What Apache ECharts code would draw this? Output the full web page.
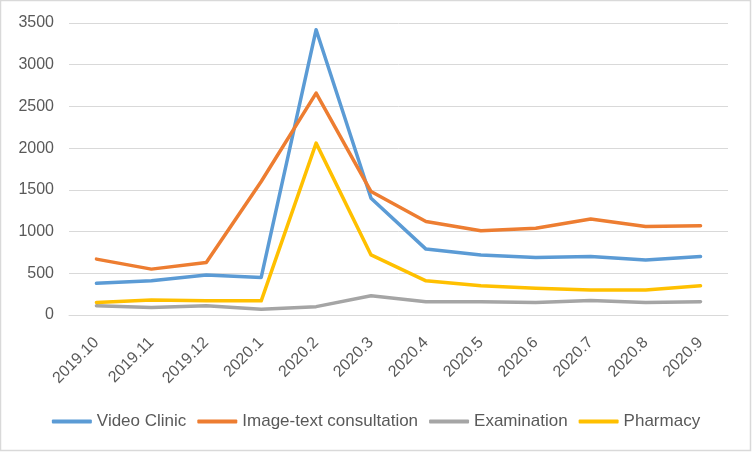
<!DOCTYPE html>
<html><head><meta charset="utf-8">
<script src="https://cdn.jsdelivr.net/npm/echarts@6/dist/echarts.min.js"></script>
<style>html,body{margin:0;padding:0;background:#fff}#c{width:752px;height:452px}</style>
</head><body><div id="c"></div>
<script>
var categories = ['2019.10','2019.11','2019.12','2020.1','2020.2','2020.3','2020.4','2020.5','2020.6','2020.7','2020.8','2020.9'];
var videoClinic = [380, 410, 480, 450, 3420, 1400, 790, 720, 690, 700, 660, 700];
var imageText = [670, 550, 630, 1600, 2660, 1480, 1120, 1010, 1040, 1150, 1060, 1070];
var examination = [110, 90, 110, 70, 100, 230, 160, 160, 150, 175, 150, 160];
var pharmacy = [150, 180, 170, 170, 2060, 720, 410, 350, 320, 300, 300, 350];
var seriesNames = ['Video Clinic', 'Image-text consultation', 'Examination', 'Pharmacy'];
var colors = ['#5B9BD5', '#ED7D31', '#A5A5A5', '#FFC000'];

var chart = echarts.init(document.getElementById('c'), null, {renderer: 'canvas'});
var font = "'Liberation Sans', Arial, sans-serif";
var data = [videoClinic, imageText, examination, pharmacy];
chart.setOption({
  animation: false,
  color: colors,
  textStyle: {fontFamily: font, color: '#595959'},
  graphic: [{type: 'rect', shape: {x: 0.5, y: 0.5, width: 750, height: 450}, style: {fill: 'none', stroke: '#D9D9D9', lineWidth: 1.5}, silent: true}],
  grid: {left: 69, right: 24, top: 23, bottom: 137},
  legend: {
    bottom: 17, left: 'center', icon: 'roundRect', itemWidth: 40, itemHeight: 4, itemGap: 11,
    textStyle: {fontSize: 17, color: '#595959', fontFamily: font},
    data: seriesNames
  },
  xAxis: {
    type: 'category', data: categories, boundaryGap: true,
    axisLine: {lineStyle: {color: '#D9D9D9', width: 1}},
    axisTick: {show: false},
    axisLabel: {rotate: 45, fontSize: 16, color: '#595959', margin: 25, interval: 0}
  },
  yAxis: {
    type: 'value', min: 0, max: 3500, interval: 500,
    axisLine: {show: false}, axisTick: {show: false},
    axisLabel: {fontSize: 16, color: '#595959', margin: 15, formatter: function (v) { return String(v); }},
    splitLine: {lineStyle: {color: '#D9D9D9', width: 1}}
  },
  series: seriesNames.map(function (n, i) {
    return {name: n, type: 'line', data: data[i], symbol: 'none', smooth: false,
      lineStyle: {width: 3.5, color: colors[i], join: 'round', cap: 'round'}};
  })
});
</script></body></html>
